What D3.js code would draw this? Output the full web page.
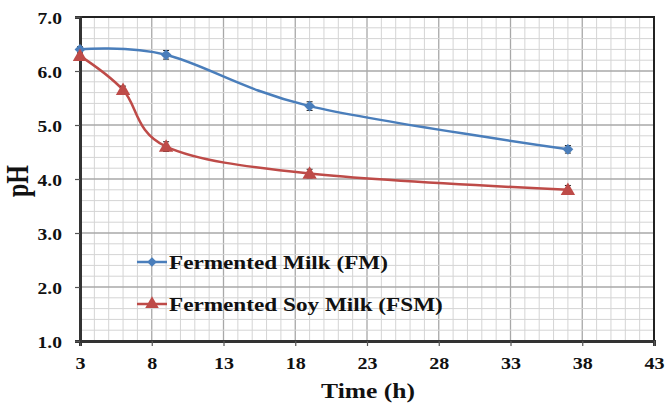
<!DOCTYPE html>
<html>
<head>
<meta charset="utf-8">
<script src="https://cdn.jsdelivr.net/npm/d3@7"></script>
<style>
  html, body { margin: 0; padding: 0; background: #fff; }
  svg { display: block; }
  text { font-family: "Liberation Serif", "Times New Roman", serif; font-weight: bold; fill: #111; }
</style>
</head>
<body>
<svg id="chart" width="665" height="405"></svg>
<script>
// Fermentation time (h) and pH readings
const fmTime  = [3, 9, 19, 37];
const fmPH    = [6.40, 6.30, 5.35, 4.55];
const fmErr   = [0.05, 0.08, 0.08, 0.07];
const fsmTime = [3, 6, 9, 19, 37];
const fsmPH   = [6.28, 5.65, 4.60, 4.10, 3.80];
const fsmErr  = [0.05, 0.07, 0.09, 0.08, 0.08];

const xTicks = [3, 8, 13, 18, 23, 28, 33, 38, 43];
const yTicks = [1.0, 2.0, 3.0, 4.0, 5.0, 6.0, 7.0];

const seriesNames = ["Fermented Milk (FM)", "Fermented Soy Milk (FSM)"];
const seriesColors = ["#4a7ebb", "#be4b48"];

const svg = d3.select("#chart");
const m = { left: 80, right: 654, top: 17, bottom: 341 };

const x = d3.scaleLinear().domain([3, 43]).range([m.left, m.right]);
const y = d3.scaleLinear().domain([1, 7]).range([m.bottom, m.top]);

// Grid: minor every hour / 0.2 pH, major every 5 h / 1 pH
const g = svg.append("g");
g.selectAll("line.v").data(d3.range(3, 44, 1)).join("line")
  .attr("x1", d => x(d)).attr("x2", d => x(d))
  .attr("y1", m.top).attr("y2", m.bottom)
  .attr("stroke", d => (d - 3) % 5 === 0 ? "#a8a8a8" : "#d4d4d4")
  .attr("stroke-width", d => (d - 3) % 5 === 0 ? 1.3 : 1);
g.selectAll("line.h").data(d3.range(0, 31)).join("line")
  .attr("x1", m.left).attr("x2", m.right)
  .attr("y1", d => y(1 + d * 0.2)).attr("y2", d => y(1 + d * 0.2))
  .attr("stroke", d => d % 5 === 0 ? "#a8a8a8" : "#d4d4d4")
  .attr("stroke-width", d => d % 5 === 0 ? 1.3 : 1);

// Plot frame
svg.append("rect")
  .attr("x", m.left).attr("y", m.top)
  .attr("width", m.right - m.left).attr("height", m.bottom - m.top)
  .attr("fill", "none").attr("stroke", "#222").attr("stroke-width", 2);

// Axes
const xAxis = svg.append("g").attr("transform", `translate(0,${m.bottom})`)
  .call(d3.axisBottom(x).tickValues(xTicks).tickFormat(d3.format("d")).tickSize(5));
const yAxis = svg.append("g").attr("transform", `translate(${m.left},0)`)
  .call(d3.axisLeft(y).tickValues(yTicks).tickFormat(d3.format(".1f")).tickSize(5));
[xAxis, yAxis].forEach(a => {
  a.select(".domain").attr("stroke", "#333").attr("stroke-width", 3);
  a.selectAll(".tick line").attr("stroke", "#555").attr("stroke-width", 1.2);
  a.selectAll(".tick text").attr("fill", "#111")
    .attr("font-family", "Liberation Serif, serif").attr("font-weight", "bold");
});
xAxis.selectAll(".tick text").attr("font-size", 17)
  .attr("y", 28).attr("dy", 0).attr("transform", "scale(1.18,1)");
yAxis.selectAll(".tick text").attr("font-size", 16)
  .attr("x", -18 / 1.22).attr("dy", "0.38em").attr("transform", "scale(1.22,1)");

// Axis titles
svg.append("text").attr("transform", "translate(368,398) scale(1.16,1)")
  .attr("text-anchor", "middle").attr("font-size", 22).text("Time (h)");
svg.append("text").attr("transform", "translate(28,181) rotate(-90) scale(1,1.3)")
  .attr("text-anchor", "middle").attr("font-size", 24).text("pH");

// Series
const series = [
  { t: fmTime, v: fmPH, e: fmErr, marker: d3.symbolDiamond2, size: 75, dy: 0 },
  { t: fsmTime, v: fsmPH, e: fsmErr, marker: d3.symbolTriangle, size: 90, dy: 1 }
];
const line = d3.line().x(d => x(d[0])).y(d => y(d[1])).curve(d3.curveCardinal.tension(0));

series.forEach((s, i) => {
  const pts = s.t.map((t, j) => [t, s.v[j], s.e[j]]);
  svg.append("path").datum(pts).attr("d", line)
    .attr("fill", "none").attr("stroke", seriesColors[i]).attr("stroke-width", 2.5);
  // error bars
  const eb = svg.append("g").attr("stroke", "#222").attr("stroke-width", 1);
  pts.forEach(p => {
    eb.append("line").attr("x1", x(p[0])).attr("x2", x(p[0]))
      .attr("y1", y(p[1] + p[2])).attr("y2", y(p[1] - p[2]));
    [p[1] + p[2], p[1] - p[2]].forEach(v => eb.append("line")
      .attr("x1", x(p[0]) - 3).attr("x2", x(p[0]) + 3).attr("y1", y(v)).attr("y2", y(v)));
  });
  svg.append("g").selectAll("path").data(pts).join("path")
    .attr("transform", d => `translate(${x(d[0])},${y(d[1]) + s.dy})`)
    .attr("d", d3.symbol(s.marker, s.size))
    .attr("fill", seriesColors[i]);
});

// Legend
const legendY = [262, 304];
seriesNames.forEach((name, i) => {
  const lg = svg.append("g").attr("transform", `translate(137,${legendY[i]})`);
  lg.append("line").attr("x1", 0).attr("x2", 30).attr("y1", 0).attr("y2", 0)
    .attr("stroke", seriesColors[i]).attr("stroke-width", 2.5);
  lg.append("path").attr("transform", "translate(15,0)")
    .attr("d", d3.symbol(series[i].marker, i === 0 ? 60 : 80)).attr("fill", seriesColors[i]);
  lg.append("text").attr("transform", "translate(32,6.5) scale(1.19,1)")
    .attr("font-size", 19.5).text(name);
});
</script>
</body>
</html>
